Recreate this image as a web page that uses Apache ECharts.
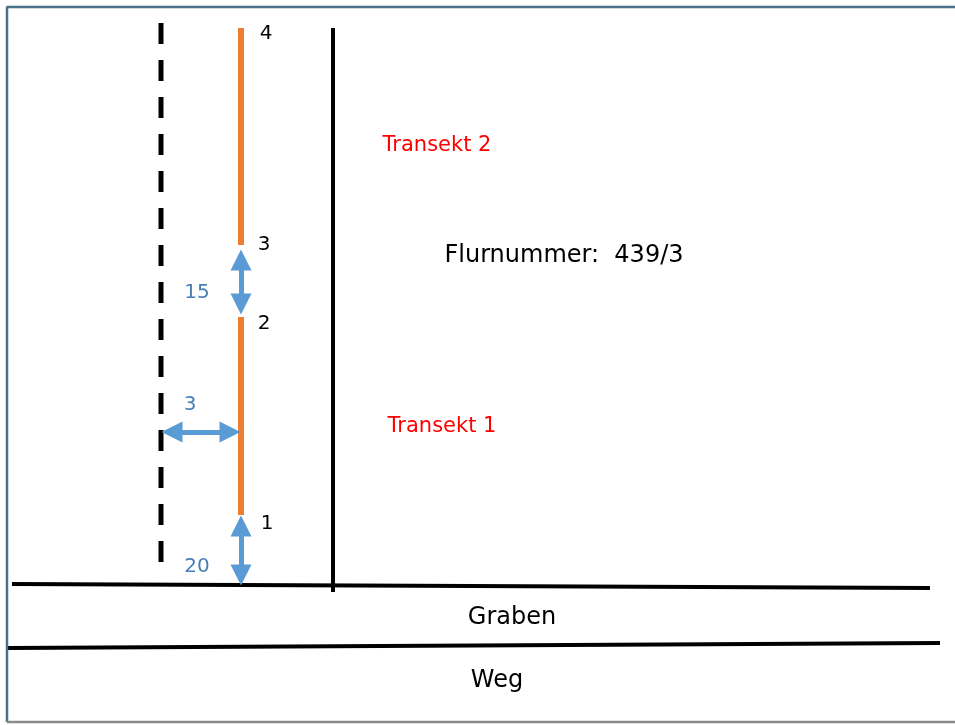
<!DOCTYPE html>
<html>
<head>
<meta charset="utf-8">
<script src="https://cdn.jsdelivr.net/npm/echarts@6/dist/echarts.min.js"></script>
<style>
  html, body { margin: 0; padding: 0; background: #ffffff; }
  #chart { width: 955px; height: 725px; }
</style>
</head>
<body>
<div id="chart"></div>
<script>
// Diagram coordinates (plan units, y grows downward)
const frameTopLeft = [[955, 7], [7, 7], [7, 722]];
const frameBottom = [[7, 722], [955, 722]];
const plotBoundary = [[[333, 28], [333, 592]]];
const groundLines = [[[12, 584], [930, 588]], [[8, 648], [940, 643]]];
const referenceLine = [[161, 23], [161, 570]];
const transektSegments = [[[241, 28], [241, 245]], [[241, 317], [241, 515]]];
// arrow shafts (heads are added by the library at both ends)
const distanceArrows = [[[241, 260], [241, 304]], [[172, 432], [230, 432]], [[241, 526], [241, 575]]];
const distanceValues = ['15', '3', '20'];
const distanceLabelPos = [[197, 293], [190, 405], [197, 567]];
const pointNames = ['1', '2', '3', '4'];
const pointLabelPos = [[267, 524], [264, 324], [264, 245], [266, 34]];
const transektNames = ['Transekt 1', 'Transekt 2'];
const transektLabelPos = [[442, 427], [437, 146]];
const areaNames = ['Flurnummer:  439/3', 'Graben', 'Weg'];
const areaLabelPos = [[564, 256], [512, 618], [497, 681]];

const FONT = '"DejaVu Sans", "Noto Sans", sans-serif';

function textSeries(names, positions, color, size) {
  return {
    type: 'scatter',
    symbolSize: 1,
    itemStyle: { color: 'rgba(0,0,0,0)', opacity: 1 },
    silent: true,
    z: 10,
    data: names.map((n, i) => ({ name: n, value: positions[i] })),
    label: {
      show: true,
      position: 'inside',
      formatter: p => p.name,
      color: color,
      opacity: 1,
      fontSize: size,
      fontFamily: FONT
    }
  };
}

function segs(list) { return list.map(c => ({ coords: c })); }

const chart = echarts.init(document.getElementById('chart'), null, { renderer: 'canvas' });
chart.setOption({
  animation: false,
  backgroundColor: '#ffffff',
  grid: { left: 0, right: 0, top: 0, bottom: 0 },
  xAxis: { type: 'value', min: 0, max: 955, show: false },
  yAxis: { type: 'value', min: 0, max: 725, inverse: true, show: false },
  series: [
    { type: 'line', data: frameTopLeft, symbol: 'none', silent: true,
      lineStyle: { color: '#4a7389', width: 2.5 } },
    { type: 'line', data: frameBottom, symbol: 'none', silent: true,
      lineStyle: { color: '#8a8a8a', width: 2.5 } },
    { type: 'lines', coordinateSystem: 'cartesian2d', silent: true,
      lineStyle: { color: '#000000', width: 4, opacity: 1 }, data: segs(plotBoundary) },
    { type: 'lines', coordinateSystem: 'cartesian2d', silent: true,
      lineStyle: { color: '#000000', width: 4, opacity: 1 }, data: segs(groundLines) },
    { type: 'line', data: referenceLine, symbol: 'none', silent: true,
      lineStyle: { color: '#000000', width: 5, type: [21, 16], dashOffset: 0 } },
    { type: 'lines', coordinateSystem: 'cartesian2d', silent: true,
      lineStyle: { color: '#ed7d31', width: 6, opacity: 1 }, data: segs(transektSegments) },
    { type: 'lines', coordinateSystem: 'cartesian2d', silent: true, z: 5,
      symbol: ['triangle', 'triangle'], symbolSize: 21,
      lineStyle: { color: '#5b9bd5', width: 5, opacity: 1 }, data: segs(distanceArrows) },
    textSeries(distanceValues, distanceLabelPos, '#4a7fb5', 20),
    textSeries(pointNames, pointLabelPos, '#000000', 20),
    textSeries(transektNames, transektLabelPos, '#ff0000', 21),
    textSeries(areaNames, areaLabelPos, '#000000', 24)
  ]
});
</script>
</body>
</html>
